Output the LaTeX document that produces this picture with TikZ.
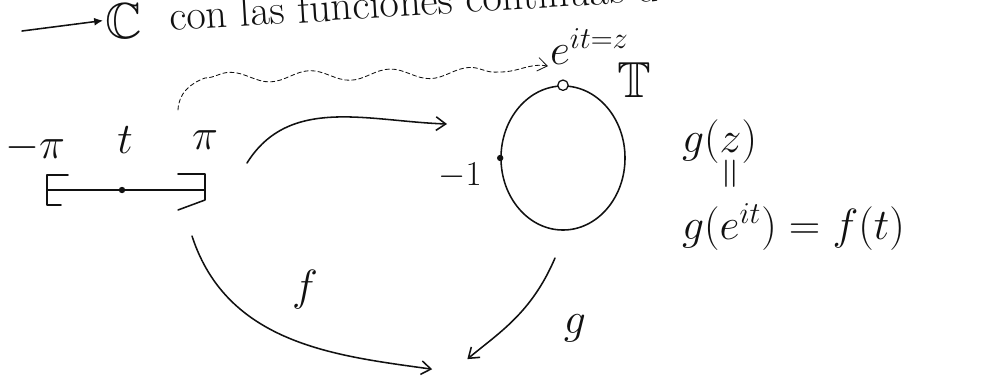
\documentclass[tikz,border=0pt]{standalone}
\usepackage{amsmath,amssymb}
\usepackage{fontspec}
\usetikzlibrary{arrows.meta,positioning,shapes.geometric,decorations.pathmorphing,calc}
\definecolor{ink}{HTML}{111111}
\tikzset{
  >={Straight Barb[length=2.4mm,width=3.4mm]},
  every picture/.style={line cap=round, line join=round},
  lbl/.style={font=\fontsize{24}{28}\selectfont, text=ink, inner sep=1pt},
  midl/.style={lbl, scale=1.25},
  bigl/.style={lbl, scale=1.5},
  pen/.style={draw=ink, line width=1.1pt},
  arr/.style={->, draw=ink, line width=1.1pt},
  wavy/.style={->, draw=ink, line width=0.6pt, densely dashed},
  dot/.style={circle, fill=ink, inner sep=0pt, minimum size=1.6mm},
  odot/.style={circle, draw=ink, fill=white, line width=0.9pt, inner sep=0pt, minimum size=2.6mm},
}
\begin{document}
\begin{tikzpicture}[x=0.025cm, y=0.025cm]
  \useasboundingbox (0,0) rectangle (986,-383);
  \clip (0,0) rectangle (986,-383);
  % ---------- heading (cut at the top) ----------
  \coordinate (hstart) at (22,-31);
  \node[bigl, anchor=base west] (cc) at (103,-38) {$\mathbb{C}$};
  \draw[pen, -{Latex[length=2.2mm,width=2mm]}] (hstart) -- (cc.west);
  \node[midl, anchor=base west, rotate=3.5] (head) at (168,-31)
    {con las funciones continuas de $\mathbb{T}$};

  % ---------- the interval ----------
  \node[midl] (lpi) at (35,-148) {$-\pi$};
  \node[midl] (lt) at (125,-140) {$t$};
  \node[midl] (rpi) at (205,-140) {$\pi$};
  \coordinate (ia) at (47,-190);
  \coordinate (ib) at (205,-190);
  \draw[pen] (ia) -- (ib);
  \draw[pen] ($(ia)+(21,15)$) -- ++(-21,0) -- ++(0,-30) -- ++(14,0);
  \draw[pen] ($(ib)+(-27,16)$) -- ++(27,0) -- ++(0,-26) -- ++(-27,-10);
  \node[dot] (pt) at (122,-190) {};

  % ---------- the circle T ----------
  \node[draw=ink, line width=1.1pt, ellipse, minimum width=3.1cm, minimum height=3.6cm] (circ) at (563,-158) {};
  \node[dot] (pm1) at (circ.west) {};
  \node[lbl] (m1) at (460,-176) {$-1$};
  \node[odot] (pz) at (circ.north) {};
  \node[midl, anchor=base west] (ez) at (548,-64) {$e^{it=z}$};
  \node[bigl] (tt) at (634,-80) {$\mathbb{T}$};

  % ---------- maps ----------
  \coordinate (ws) at (178,-110);
  \draw[wavy] (ws) to[out=88, in=200] (205,-78)
    decorate[decoration={snake, amplitude=1.3mm, segment length=2cm}] {-- (500,-72)}
    to[out=0, in=170] (ez.south west);
  \coordinate (s1) at (247,-163);
  \coordinate (e1) at (447,-124);
  \draw[arr] (s1) to[out=58, in=178] (e1);
  \coordinate (fs) at (192,-236);
  \coordinate (gs) at (555,-258);
  \coordinate (tgt) at (452,-372);
  \draw[arr, shorten >=0.5cm] (fs) to[out=-72, in=172] (tgt);
  \draw[arr, shorten >=0.5cm] (gs) to[out=-113, in=40] (tgt);
  \node[midl] (fl) at (305,-290) {$f$};
  \node[midl] (gl) at (575,-328) {$g$};

  % ---------- relation ----------
  \node[midl, anchor=west] (gz) at (680,-142) {$g(z)$};
  \node[midl, rotate=90] (eqv) at (733,-174) {$=$};
  \node[midl, anchor=west] (geq) at (680,-227) {$g(e^{it})=f(t)$};
\end{tikzpicture}
\end{document}
